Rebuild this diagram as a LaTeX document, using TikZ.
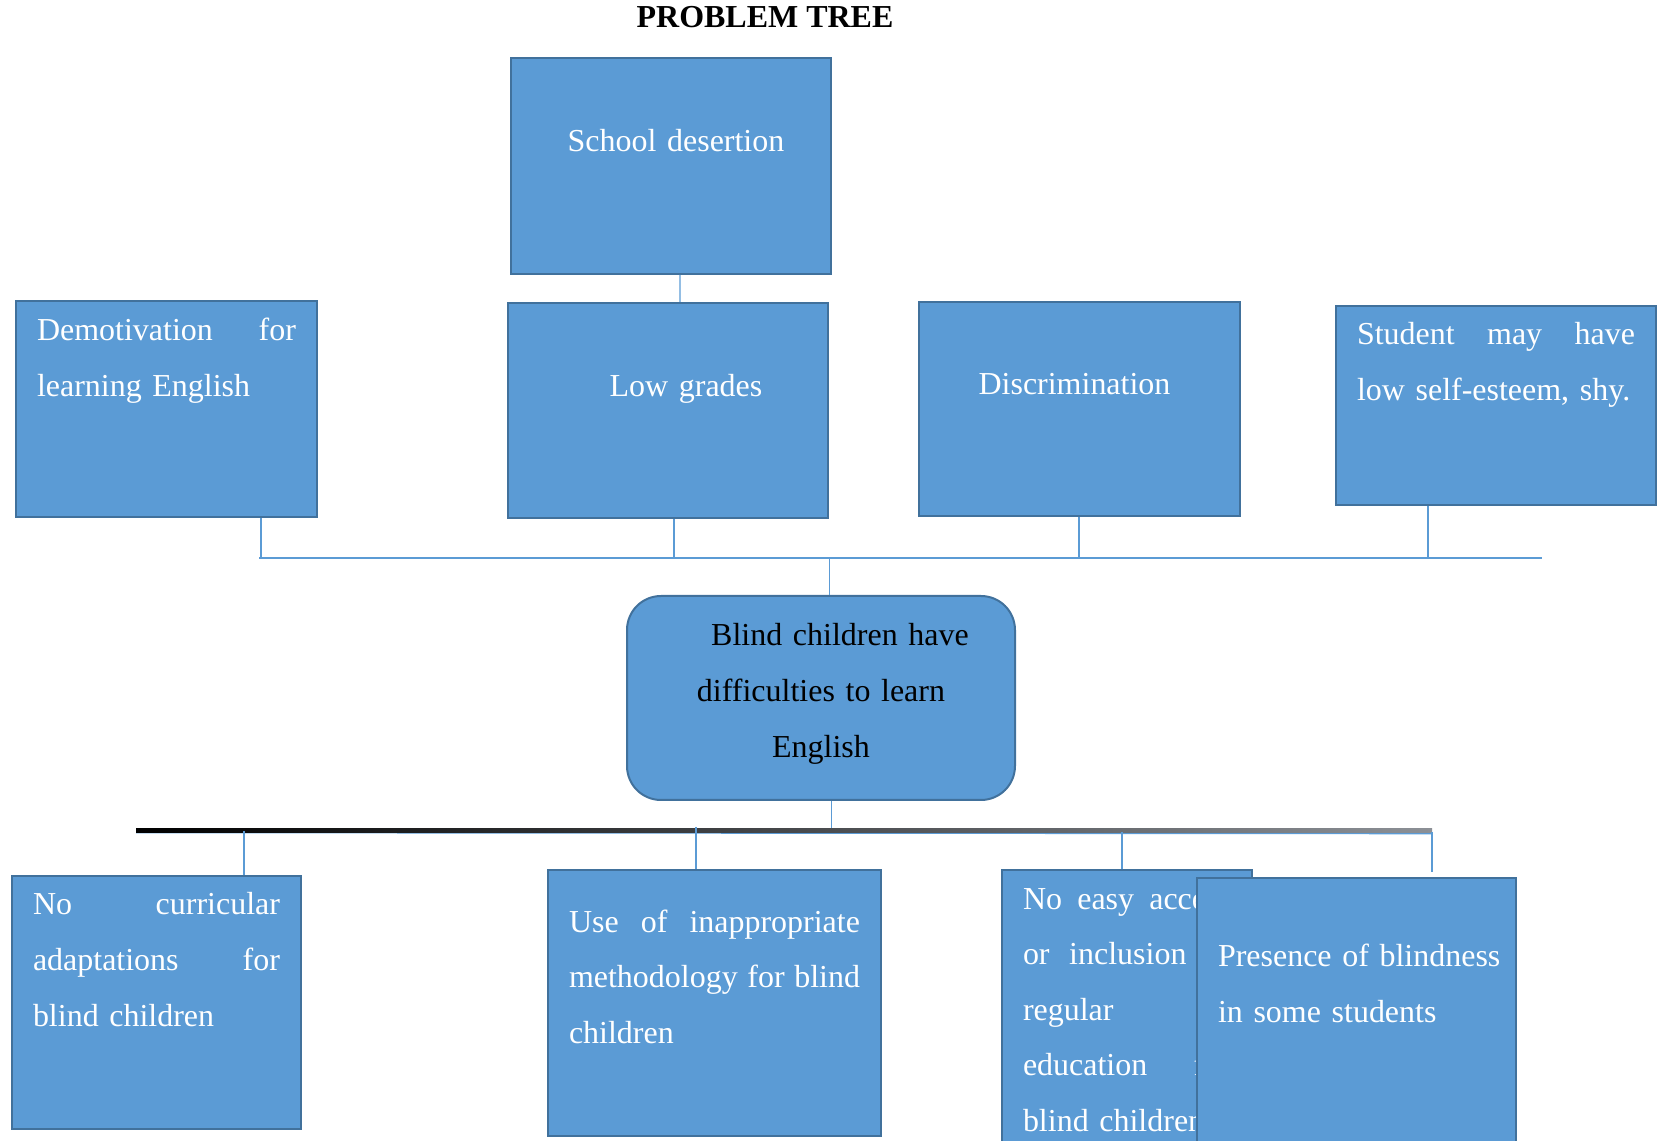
\documentclass[tikz,border=0pt]{standalone}
\usepackage{fontspec}
\setmainfont{Liberation Serif}
\definecolor{boxfill}{RGB}{91,155,213}
\definecolor{boxline}{RGB}{65,113,156}
\definecolor{linkblue}{RGB}{91,155,213}
\definecolor{busgray}{RGB}{140,144,150}
\newdimen\pix \pix=0.02cm
\newcommand{\fullline}[2]{\leavevmode\hbox to#1{#2}}
\begin{document}
\begin{tikzpicture}[x=0.02cm, y=-0.02cm,
    box/.style={draw=boxline, fill=boxfill, line width=2\pix, rectangle, anchor=north west,
      inner xsep=21\pix, inner ysep=0pt, text=white, align=left,
      font=\fontsize{18.2}{31.6}\selectfont},
    link/.style={draw=linkblue, line width=1.2\pix},
    bus/.style={draw=linkblue, line width=2.5\pix}]
    \useasboundingbox (0,0) rectangle (1661,1141);

    \node [anchor=base, font=\bfseries\fontsize{18.2}{20}\selectfont] (title) at (765,27.5) {PROBLEM TREE};

    \node [box, align=center, text width=278\pix, text height=94\pix, text depth=122\pix] (desert) at (509.5,57) {\hspace*{11\pix}School desertion};
    \node [box, text width=259\pix, text height=40\pix, text depth=176\pix] (demot) at (15,300) {\fullline{259\pix}{Demotivation\hfill for}\\learning English};
    \node [box, align=center, text width=278\pix, text height=94\pix, text depth=121\pix] (lowgr) at (507,302) {\hspace*{36\pix}Low grades};
    \node [box, align=center, text width=279\pix, text height=93\pix, text depth=121\pix] (discr) at (918,301) {\hspace*{-10\pix}Discrimination};
    \node [box, text width=278\pix, text height=39\pix, text depth=160\pix] (stud) at (1335,305) {\fullline{278\pix}{Student\hfill may\hfill have}\\low self-esteem, shy.};

    \node [box, rounded corners=34\pix, text=black, align=center, text width=346\pix, text height=50\pix, text depth=154\pix] (blind) at (626,595) {\hspace*{38\pix}Blind children have\\difficulties to learn\\English};

    \node [box, text width=247\pix, text height=39\pix, text depth=214\pix] (nocur) at (11,875) {\fullline{247\pix}{No\hfill curricular}\\\fullline{247\pix}{adaptations\hfill for}\\blind children};
    \node [box, text width=291\pix, text height=62\pix, text depth=204\pix] (useof) at (547,869) {\fullline{291\pix}{Use\hfill of\hfill inappropriate}\\\fullline{291\pix}{methodology\hfill for\hfill blind}\\children};
    \node [box, text width=208\pix, text height=39\pix, text depth=261\pix] (noeasy) at (1001,869) {\fullline{208\pix}{No\hfill easy\hfill access}\\\fullline{208\pix}{or\hfill inclusion\hfill in}\\regular\\\fullline{208\pix}{education\hfill for}\\blind children};
    \node [box, text width=277\pix, text height=89\pix, text depth=211\pix] (presence) at (1196,877) {\mbox{Presence of blindness}\\in some students};

    \coordinate (ul) at (259,558);
    \coordinate (ur) at (1542,558);
    \coordinate (u0) at (829.5,558);
    \coordinate (u1) at (261,558);
    \coordinate (u2) at (674,558);
    \coordinate (u3) at (1079,558);
    \coordinate (u4) at (1428,558);

    \draw [link] ([xshift=9.5\pix]desert.south) -- ([xshift=12\pix]lowgr.north);
    \draw [bus] (ul) -- (ur);
    \draw [link] (demot.south -| u1) -- (u1);
    \draw [link] (lowgr.south -| u2) -- (u2);
    \draw [link] (discr.south -| u3) -- (u3);
    \draw [link] (stud.south -| u4) -- (u4);
    \draw [link] (u0) -- (blind.north -| u0);

    \coordinate (ll) at (136,831);
    \coordinate (lr) at (1432,832);
    \coordinate (l0) at (831.5,831);
    \coordinate (l1) at (244,831);
    \coordinate (l2) at (696,831);
    \coordinate (l3) at (1122,832);

    \draw [link] (blind.south -| l0) -- (l0);
    \draw [linkblue, line width=1.6\pix] ([yshift=-1.5\pix]ll) -- ([yshift=-1.5\pix]lr);
    \shade [left color=black, right color=busgray] ([yshift=2.5\pix]ll) rectangle ([yshift=-0.5\pix]lr);
    \draw [link] (l1) -- (nocur.north -| l1);
    \draw [link] ([yshift=4\pix]l2) -- (useof.north -| l2);
    \draw [link] (l3) -- (noeasy.north -| l3);
    \draw [link] (lr) -- ([yshift=-40\pix]lr);
\end{tikzpicture}
\end{document}
